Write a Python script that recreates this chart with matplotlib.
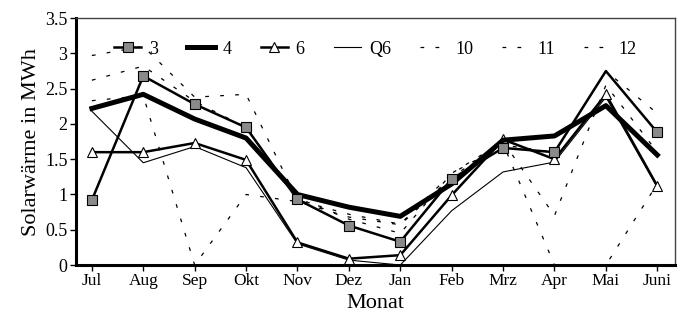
import matplotlib
matplotlib.use("Agg")
import matplotlib.pyplot as plt

months = ["Jul", "Aug", "Sep", "Okt", "Nov", "Dez", "Jan", "Feb", "Mrz", "Apr", "Mai", "Juni"]
s3 = [0.92, 2.68, 2.28, 1.95, 0.93, 0.56, 0.33, 1.22, 1.66, 1.60, 2.75, 1.88]
s4 = [2.22, 2.42, 2.07, 1.80, 1.00, 0.82, 0.69, 1.15, 1.77, 1.83, 2.26, 1.56]
s6 = [1.60, 1.60, 1.73, 1.49, 0.32, 0.09, 0.14, 0.99, 1.78, 1.50, 2.42, 1.12]
q6 = [2.18, 1.45, 1.68, 1.38, 0.30, 0.07, 0.00, 0.77, 1.32, 1.46, 2.38, 1.10]
s10 = [2.33, 2.40, 0.00, 1.00, 0.90, 0.68, 0.57, 1.25, 1.72, 0.00, 0.00, 1.15]
s11 = [2.62, 2.82, 2.32, 1.95, 0.95, 0.65, 0.45, 1.30, 1.75, 0.70, 2.55, 1.60]
s12 = [2.97, 3.10, 2.38, 2.42, 0.92, 0.72, 0.58, 1.30, 1.70, 1.60, 2.75, 2.15]
yticks = [0, 0.5, 1, 1.5, 2, 2.5, 3, 3.5]
ytick_labels = ["0", "0.5", "1", "1.5", "2", "2.5", "3", "3.5"]

plt.rcParams['font.family'] = ['Liberation Serif', 'DejaVu Serif']

fig = plt.figure(figsize=(6.78, 3.24), dpi=100)
ax = fig.add_axes([0.112, 0.182, 0.884, 0.762])
x = list(range(len(months)))

dash = (0, (3, 9))
ax.plot(x, s10, color="black", lw=0.9, linestyle=dash, label="10", zorder=2)
ax.plot(x, s11, color="black", lw=0.9, linestyle=dash, label="11", zorder=2)
ax.plot(x, s12, color="black", lw=0.9, linestyle=dash, label="12", zorder=2)
ax.plot(x, q6, color="black", lw=0.8, label="Q6", zorder=3)
ax.plot(x, s6, color="black", lw=1.8, marker="^", markersize=6.5, markerfacecolor="white",
        markeredgecolor="black", markeredgewidth=0.8, label="6", zorder=4)
ax.plot(x, s4, color="black", lw=3.6, label="4", zorder=5)
ax.plot(x, s3, color="black", lw=1.8, marker="s", markersize=7, markerfacecolor="#8a8a8a",
        markeredgecolor="black", markeredgewidth=0.8, label="3", zorder=6,
        markevery=[0, 1, 2, 3, 4, 5, 6, 7, 8, 9, 11])

ax.set_xlim(-0.31, 11.35)
ax.set_ylim(0, 3.5)
ax.set_xticks(x)
ax.set_xticklabels(months, fontsize=12.5)
ax.set_yticks(yticks)
ax.set_yticklabels(ytick_labels, fontsize=13)
ax.tick_params(axis="both", direction="out", length=4, width=1, pad=2)
ax.set_xlabel("Monat", fontsize=16, labelpad=3)
ax.set_ylabel("Solarwärme in MWh", fontsize=16, labelpad=3)

for side in ["left", "bottom"]:
    ax.spines[side].set_linewidth(2.2)
    ax.spines[side].set_color("black")
for side in ["top", "right"]:
    ax.spines[side].set_linewidth(1)
    ax.spines[side].set_color("#444444")

handles, labels = ax.get_legend_handles_labels()
order = ["3", "4", "6", "Q6", "10", "11", "12"]
hmap = dict(zip(labels, handles))
ax.legend([hmap[k] for k in order], order, loc="upper center", bbox_to_anchor=(0.5, 0.975),
          ncol=7, frameon=False, fontsize=13, handlelength=1.5, columnspacing=1.6,
          handletextpad=0.45)

fig.savefig("out.png", dpi=100)
